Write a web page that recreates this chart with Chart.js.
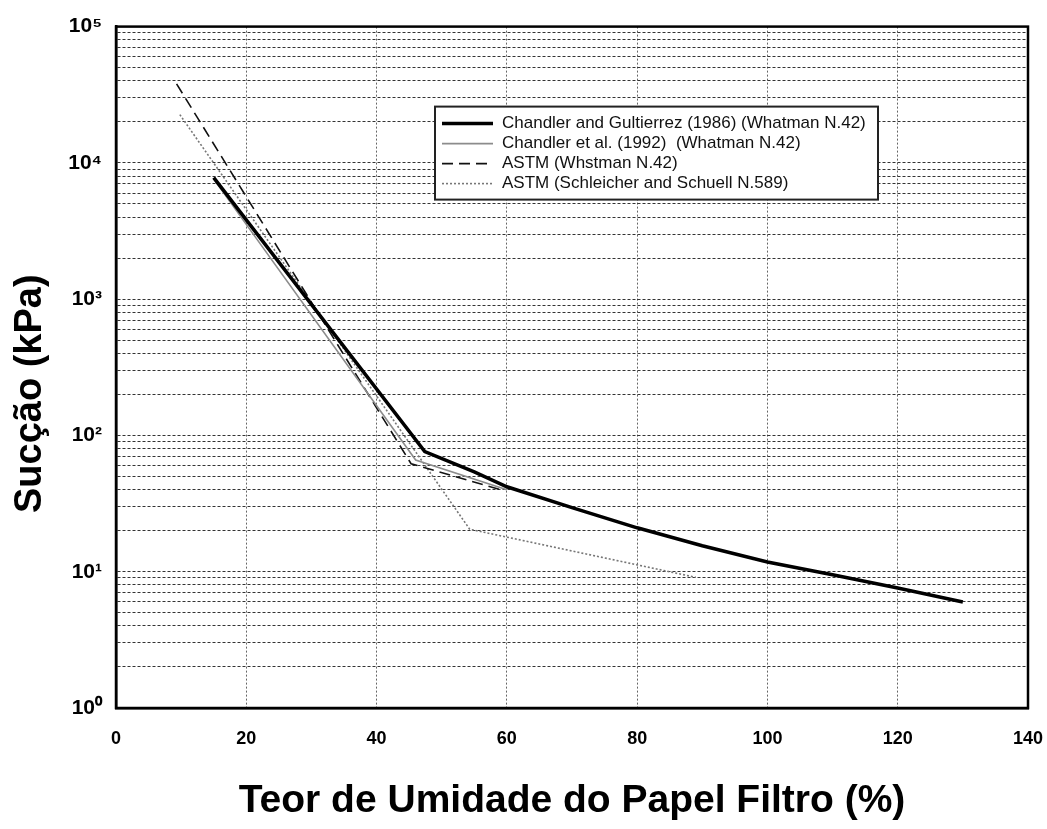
<!DOCTYPE html>
<html>
<head>
<meta charset="utf-8">
<script src="https://cdn.jsdelivr.net/npm/chart.js@4.4.0/dist/chart.umd.min.js"></script>
<style>
  html, body { margin: 0; padding: 0; background: #fff; }
  #wrap { width: 1047px; height: 829px; position: relative; }
</style>
</head>
<body>
<div id="wrap"><canvas id="chart"></canvas></div>
<script>
// Curvas de calibração do papel filtro
const labels = [
  "Chandler and Gultierrez (1986) (Whatman N.42)",
  "Chandler et al. (1992)  (Whatman N.42)",
  "ASTM (Whstman N.42)",
  "ASTM (Schleicher and Schuell N.589)"
];

// Chandler and Gutierrez (1986) - linha grossa
const cgMoisture = [15, 47.4, 55, 60, 70, 80, 90, 100, 110, 120, 130];
const cgSuction  = [7800, 76, 54, 42, 29.5, 21, 15.5, 11.8, 9.5, 7.6, 6.0];

// Chandler et al. (1992) - linha cinza
const c92Moisture = [15, 46, 60];
const c92Suction  = [7600, 66, 40];

// ASTM Whatman N.42 - tracejada
const astmWMoisture = [9.3, 45.3, 59.4];
const astmWSuction  = [38000, 62, 39.5];

// ASTM Schleicher and Schuell N.589 - pontilhada
const astmSMoisture = [9.8, 54.3, 89];
const astmSSuction  = [22600, 20.5, 9.1];

// eixos
const xMin = 0, xMax = 140, xStep = 20;
const yDecades = [0, 1, 2, 3, 4, 5];
const superscripts = ["⁰", "¹", "²", "³", "⁴", "⁵"];

function toPoints(xs, ys) {
  return xs.map((x, i) => ({ x: x, y: ys[i] }));
}

// linhas de grade: 1..9 x 10^k
function logGridTicks() {
  const ticks = [];
  for (let k = 0; k < yDecades.length - 1; k++) {
    for (let s = 1; s <= 9; s++) ticks.push({ value: s * Math.pow(10, yDecades[k]) });
  }
  ticks.push({ value: Math.pow(10, yDecades[yDecades.length - 1]) });
  return ticks;
}

const FONT = "'Liberation Sans', Arial, sans-serif";

// moldura + legenda dentro da área do gráfico
const framePlugin = {
  id: "frame",
  afterDraw(chart) {
    const { ctx, chartArea: a } = chart;
    ctx.save();
    ctx.strokeStyle = "#000";
    ctx.lineWidth = 2.5;
    ctx.strokeRect(a.left, a.top, a.right - a.left, a.bottom - a.top);

    const bx = a.left + 319, by = a.top + 80, bw = 443, bh = 93;
    ctx.fillStyle = "#fff";
    ctx.fillRect(bx, by, bw, bh);
    ctx.lineWidth = 2;
    ctx.strokeStyle = "#222";
    ctx.strokeRect(bx, by, bw, bh);

    chart.data.datasets.forEach((ds, i) => {
      const y = by + 17 + i * 20;
      ctx.beginPath();
      ctx.setLineDash(ds.borderDash || []);
      ctx.lineWidth = ds.borderWidth;
      ctx.strokeStyle = ds.borderColor;
      ctx.moveTo(bx + 7, y);
      ctx.lineTo(bx + 58, y);
      ctx.stroke();
      ctx.setLineDash([]);
      ctx.fillStyle = "#111";
      ctx.font = "17px " + FONT;
      ctx.textBaseline = "middle";
      ctx.textAlign = "left";
      ctx.fillText(ds.label, bx + 67, y);
    });
    ctx.restore();
  }
};

const ctx = document.getElementById("chart").getContext("2d");
new Chart(ctx, {
  type: "line",
  data: {
    datasets: [
      {
        label: labels[0],
        data: toPoints(cgMoisture, cgSuction),
        borderColor: "#000",
        borderWidth: 3.5
      },
      {
        label: labels[1],
        data: toPoints(c92Moisture, c92Suction),
        borderColor: "#8c8c8c",
        borderWidth: 1.6
      },
      {
        label: labels[2],
        data: toPoints(astmWMoisture, astmWSuction),
        borderColor: "#111",
        borderWidth: 1.6,
        borderDash: [11, 6]
      },
      {
        label: labels[3],
        data: toPoints(astmSMoisture, astmSSuction),
        borderColor: "#777",
        borderWidth: 1.6,
        borderDash: [2, 2]
      }
    ]
  },
  options: {
    responsive: true,
    maintainAspectRatio: false,
    animation: false,
    layout: { padding: { left: 0, right: 19, top: 25, bottom: 4 } },
    elements: { point: { radius: 0 }, line: { tension: 0 } },
    plugins: { legend: { display: false }, tooltip: { enabled: false } },
    scales: {
      x: {
        type: "linear",
        min: xMin,
        max: xMax,
        ticks: {
          stepSize: xStep,
          padding: 20,
          color: "#000",
          font: { family: FONT, size: 18, weight: "bold" }
        },
        grid: { color: "rgba(0,0,0,0.6)", lineWidth: 1, drawTicks: false },
        border: { color: "#000", width: 2.5, dash: [2, 2] },
        title: {
          display: true,
          text: "Teor de Umidade do Papel Filtro (%)",
          color: "#000",
          font: { family: FONT, size: 39, weight: "bold" },
          padding: { top: 0, bottom: 0 }
        },
        afterFit(scale) {
          scale.height = 117;
          scale.paddingLeft = 0;
          scale.paddingRight = 0;
        }
      },
      y: {
        type: "logarithmic",
        min: 1,
        max: 100000,
        afterBuildTicks(scale) { scale.ticks = logGridTicks(); },
        ticks: {
          autoSkip: false,
          padding: 14,
          color: "#000",
          font: { family: FONT, size: 21, weight: "bold" },
          callback: function(value) {
            const e = Math.log10(value);
            const r = Math.round(e);
            if (Math.abs(e - r) < 1e-9) return "10" + superscripts[r];
            return "";
          }
        },
        grid: { color: "rgba(0,0,0,0.8)", lineWidth: 1, drawTicks: false },
        border: { color: "#000", width: 2.5, dash: [3, 2] },
        title: {
          display: true,
          text: "Sucção (kPa)     ",
          color: "#000",
          font: { family: FONT, size: 38, weight: "bold" },
          padding: { top: 8, bottom: 0 }
        },
        afterFit(scale) { scale.width = 116; }
      }
    }
  },
  plugins: [framePlugin]
});
</script>
</body>
</html>
